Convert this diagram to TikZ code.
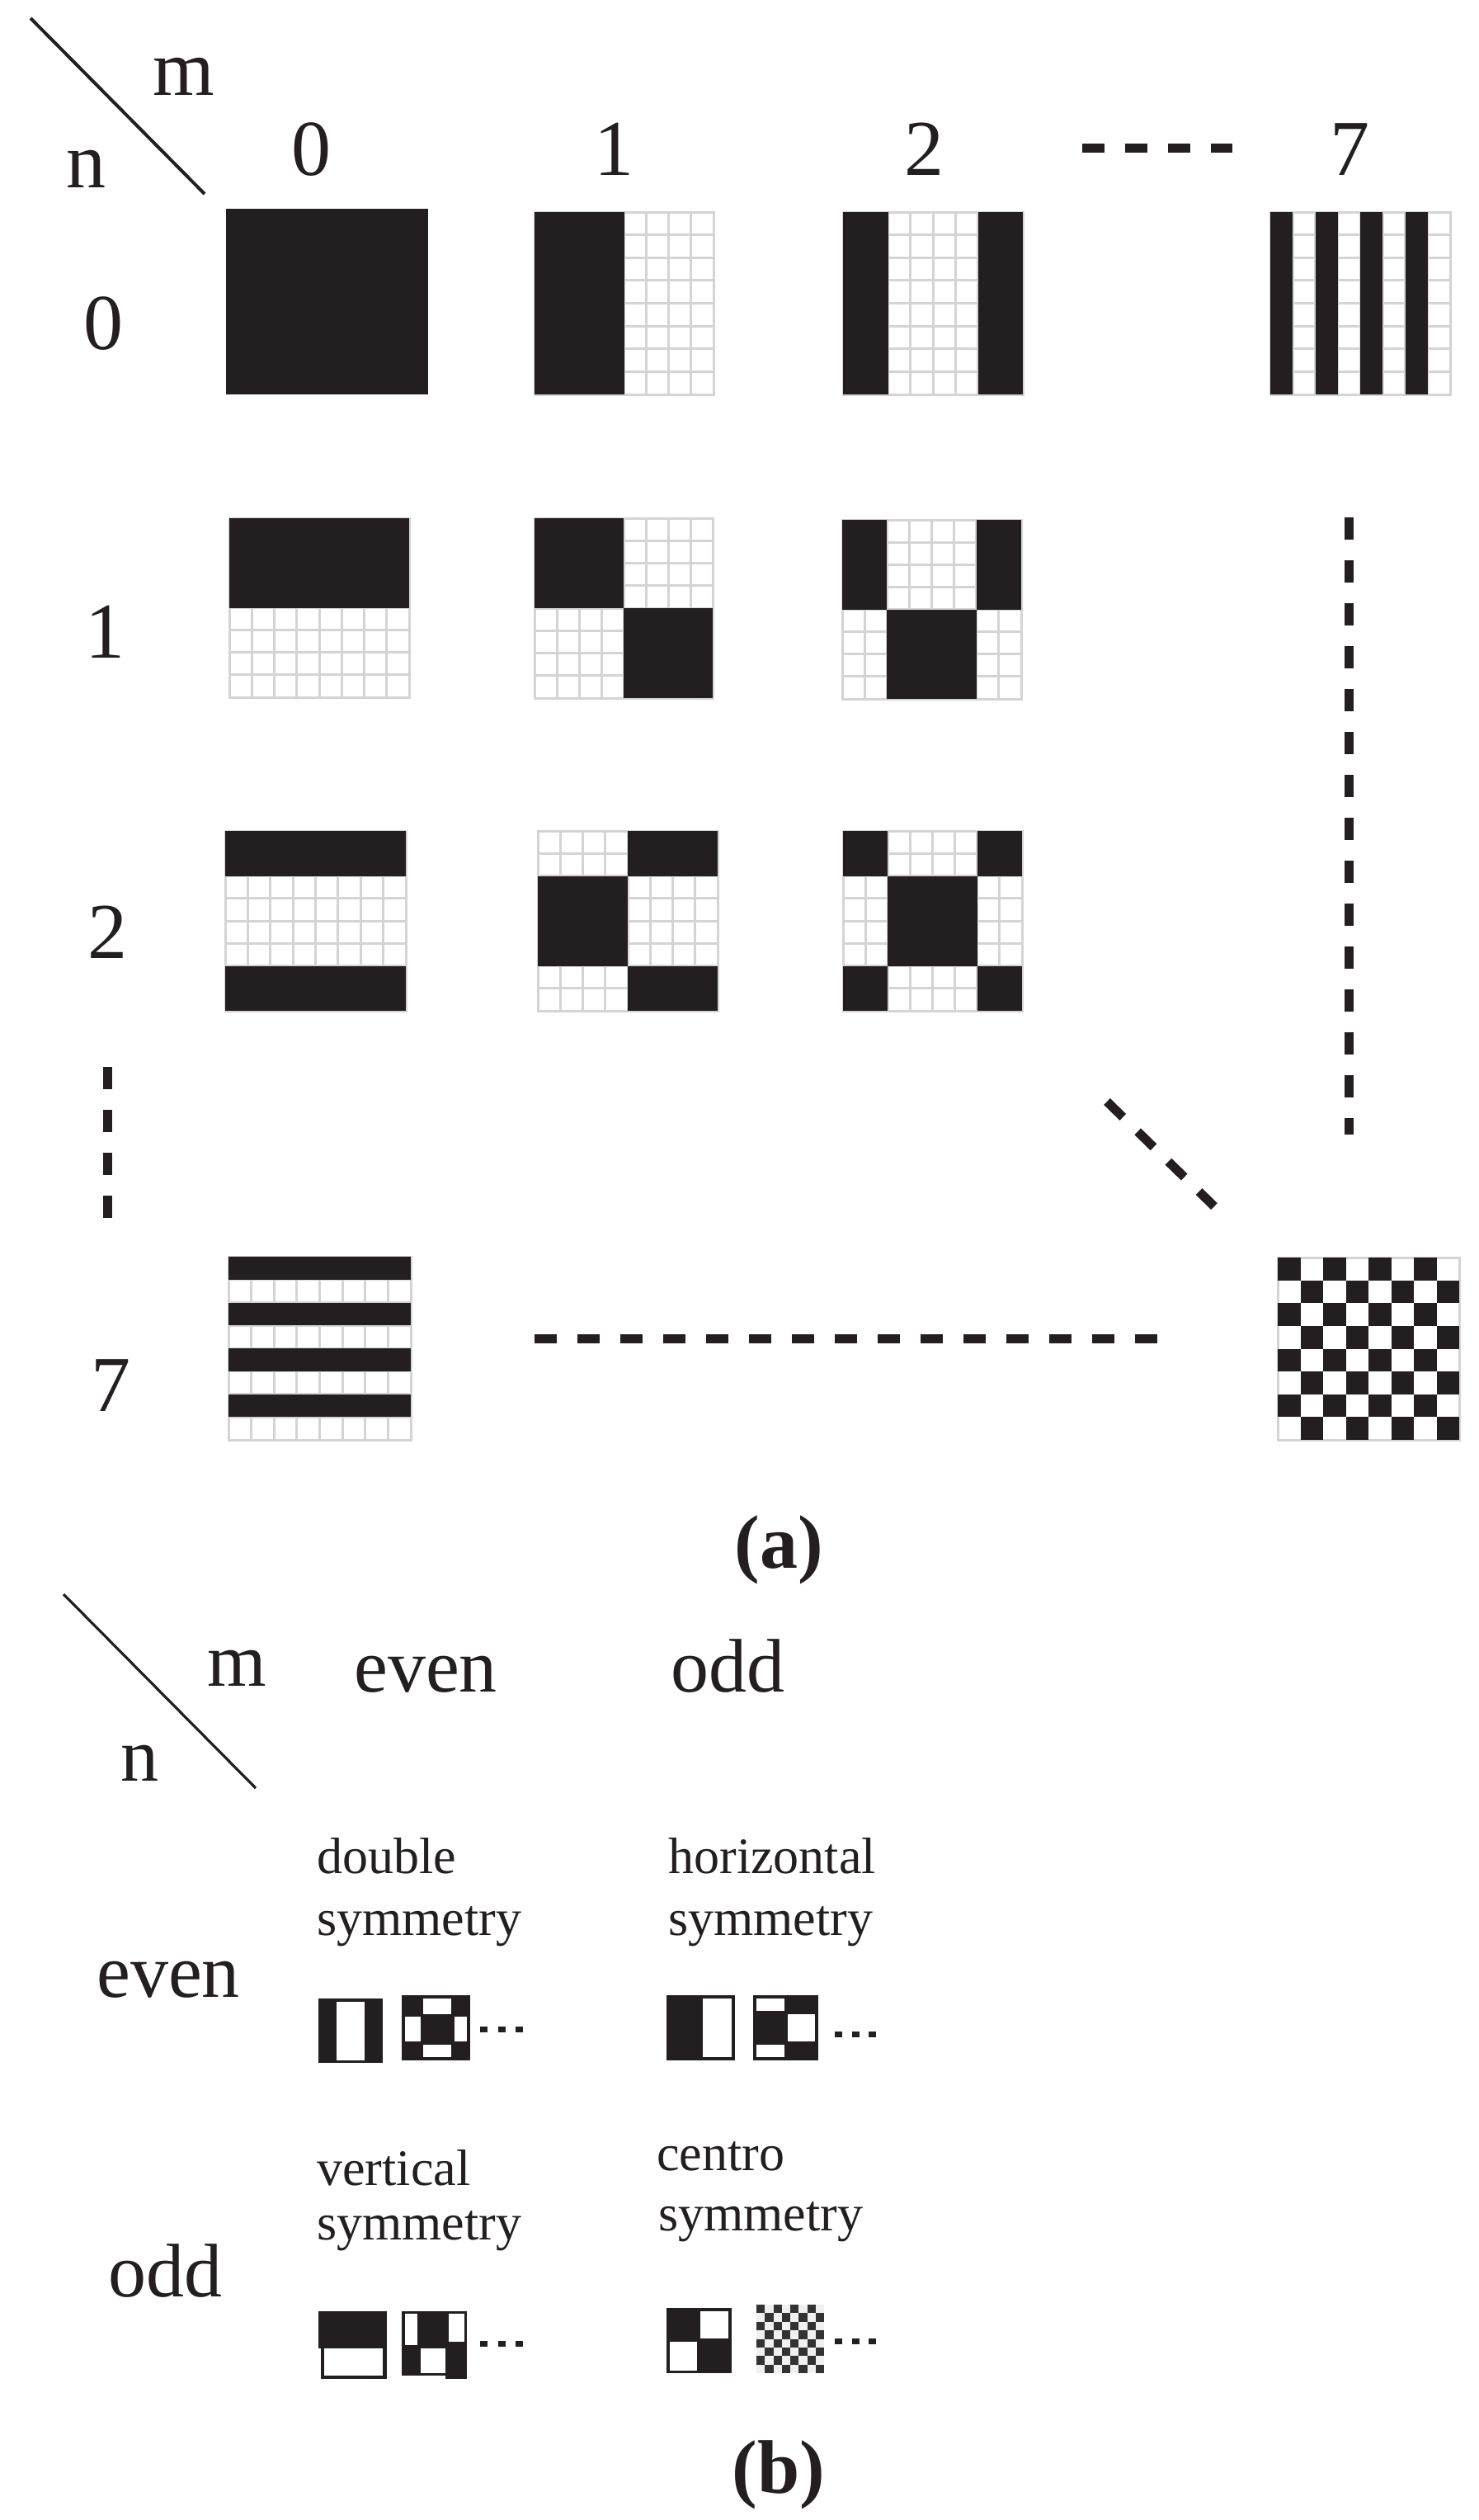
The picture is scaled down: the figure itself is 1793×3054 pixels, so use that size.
\documentclass[tikz,border=0pt]{standalone}
\usepackage{fontspec}
\setmainfont{Liberation Serif}
\definecolor{ink}{HTML}{231F20}
\definecolor{gridc}{HTML}{D4D4D4}
\newcommand\labf{\fontsize{48}{56}\selectfont}
\newcommand\hdrf{\fontsize{46}{54}\selectfont}
\newcommand\smallf{\fontsize{31}{36}\selectfont}
\newcommand\capf{\fontsize{46}{53}\selectfont\bfseries}
\newcommand\wpat[5]{%
 \begin{scope}[shift={(#1,#2)}, xscale=#3/8, yscale=#4/8]
   \foreach \k in {1,...,7} {
     \draw[gridln] (\k,0) -- (\k,8);
     \draw[gridln] (0,\k) -- (8,\k);
   }
   \draw[gridln] (0,0) rectangle (8,8);
   \foreach \a/\b/\c/\d in {#5} \fill[ink] (\a,\b) rectangle (\c,\d);
 \end{scope}}
\begin{document}
\begin{tikzpicture}[x=0.5pt,y=-0.5pt,
  gridln/.style={draw=gridc, line width=1.5pt},
  lab/.style={inner sep=0pt, anchor=base, font=\labf, text=ink},
  hdr/.style={inner sep=0pt, anchor=base, font=\hdrf, text=ink},
  small/.style={inner sep=0pt, anchor=base west, font=\smallf, text=ink},
  captxt/.style={inner sep=0pt, anchor=base, font=\capf, text=ink},
  dashln/.style={draw=ink, line width=5.5pt, dash pattern=on 13.5pt off 12.5pt},
  diag/.style={draw=ink, line width=2pt}]
\useasboundingbox (0,0) rectangle (1793,3054);
\fill[white] (0,0) rectangle (1793,3054);

% ---------------- part (a) ----------------
\coordinate (da1) at (37,22);
\coordinate (da2) at (248,235);
\draw[diag] (da1) -- (da2);
\node[lab] (am) at (223,115) {m};
\node[lab] (an) at (104,227) {n};
\node[lab] (c0) at (377,212) {0};
\node[lab] (c1) at (744,212) {1};
\node[lab] (c2) at (1120,212) {2};
\node[lab] (c7) at (1636,212) {7};
\node[lab] (r0) at (125,423) {0};
\node[lab] (r1) at (127,797) {1};
\node[lab] (r2) at (130,1161) {2};
\node[lab] (r7) at (134,1710) {7};

% patterns
\begin{scope}[shift={(274,253)}, xscale=245/8, yscale=225/8]
  \fill[ink] (0,0) rectangle (8,8);
\end{scope}
\wpat{648}{257}{217}{221}{0/0/4/8}
\wpat{1022}{257}{218}{221}{0/0/2/8,6/0/8/8}
\wpat{1540}{257}{218}{221}{0/0/1/8,2/0/3/8,4/0/5/8,6/0/7/8}
\wpat{278}{628}{218}{217}{0/0/8/4}
\wpat{648}{628}{216}{218}{0/0/4/4,4/4/8/8}
\wpat{1021}{630}{217}{217}{0/0/2/4,6/0/8/4,2/4/6/8}
\wpat{273}{1007}{219}{218}{0/0/8/2,0/6/8/8}
\wpat{652}{1007}{218}{218}{4/0/8/2,0/2/4/6,4/6/8/8}
\wpat{1022}{1007}{217}{218}{0/0/2/2,6/0/8/2,2/2/6/6,0/6/2/8,6/6/8/8}
\wpat{277}{1523}{221}{222}{0/0/8/1,0/2/8/3,0/4/8/5,0/6/8/7}
\begin{scope}[shift={(1549,1524)}, xscale=220/8, yscale=221/8]
  \draw[gridln] (0,0) rectangle (8,8);
  \foreach \r in {0,...,7}
    \foreach \c in {0,2,4,6} {
      \pgfmathtruncatemacro\cc{\c+mod(\r,2)}
      \fill[ink] (\cc,\r) rectangle ++(1,1);
    }
\end{scope}

% dashed connectors
\coordinate (hd1) at (1312,179);
\coordinate (hd2) at (1494,179);
\draw[dashln] (hd1) -- (hd2);
\coordinate (lv1) at (130,1293);
\coordinate (lv2) at (130,1476);
\draw[dashln] (lv1) -- (lv2);
\coordinate (rv1) at (1635,627);
\coordinate (rv2) at (1635,1375);
\draw[dashln] (rv1) -- (rv2);
\coordinate (hh1) at (648,1622);
\coordinate (hh2) at (1404,1622);
\draw[dashln] (hh1) -- (hh2);
\coordinate (dd1) at (1342,1335);
\coordinate (dd2) at (1472,1462);
\draw[dashln] (dd1) -- (dd2);

\node[captxt] (capa) at (944,1900) {(a)};

% ---------------- part (b) ----------------
\coordinate (db1) at (77,1932);
\coordinate (db2) at (310,2167);
\draw[diag, line width=1.6pt] (db1) -- (db2);
\node[hdr] (bm) at (287,2043) {m};
\node[hdr] (beven) at (516,2050) {even};
\node[hdr] (bodd) at (882,2050) {odd};
\node[hdr] (bn) at (169,2158) {n};
\node[hdr] (breven) at (204,2420) {even};
\node[hdr] (brodd) at (200,2783) {odd};

\node[small] (t1a) at (384,2270) {double};
\node[small] (t1b) at (384,2345) {symmetry};
\node[small] (t2a) at (810,2270) {horizontal};
\node[small] (t2b) at (810,2345) {symmetry};
\node[small] (t3a) at (384,2648) {vertical};
\node[small] (t3b) at (384,2714) {symmetry};
\node[small] (t4a) at (796,2630) {centro};
\node[small] (t4b) at (798,2703) {symmetry};

% icons, even row
\fill[ink] (386,2422) rectangle (464,2500);
\fill[white] (408,2426) rectangle (442,2497);
\fill[ink] (487,2418) rectangle (570,2497);
\fill[white] (513,2422) rectangle (547,2441);
\fill[white] (491,2444) rectangle (510,2474);
\fill[white] (551,2444) rectangle (566,2474);
\fill[white] (513,2478) rectangle (547,2493);
\fill[ink] (808,2418) rectangle (891,2497);
\fill[white] (852,2422) rectangle (887,2493);
\fill[ink] (913,2418) rectangle (992,2497);
\fill[white] (917,2422) rectangle (951,2437);
\fill[white] (955,2441) rectangle (988,2474);
\fill[white] (917,2478) rectangle (951,2493);
\foreach \x in {586,608,629} \fill[ink] (\x-4.5,2455.5) rectangle ++(9,7);
\foreach \x in {1016,1037,1057} \fill[ink] (\x-4.5,2461.5) rectangle ++(9,7);

% icons, odd row
\fill[ink] (386,2801) rectangle (469,2846);
\fill[ink] (389,2846) rectangle (469,2883);
\fill[white] (393,2846) rectangle (464,2879);
\fill[ink] (487,2801) rectangle (566,2879);
\fill[ink] (540,2838) rectangle (566,2883);
\fill[white] (491,2804) rectangle (506,2842);
\fill[white] (544,2804) rectangle (563,2838);
\fill[white] (510,2846) rectangle (540,2876);
\fill[ink] (808,2797) rectangle (887,2876);
\fill[white] (849,2801) rectangle (883,2834);
\fill[white] (812,2838) rectangle (845,2873);
\begin{scope}[shift={(917,2793)}, xscale=82/8, yscale=83/8]
  \fill[gray!12] (0,0) rectangle (8,8);
  \foreach \r in {0,...,7}
    \foreach \c in {0,2,4,6} {
      \pgfmathtruncatemacro\cc{\c+mod(\r,2)}
      \fill[black!80] (\cc,\r) rectangle ++(1,1);
    }
\end{scope}
\foreach \x in {586,608,629} \fill[ink] (\x-4.5,2836.5) rectangle ++(9,7);
\foreach \x in {1016,1037,1057} \fill[ink] (\x-4.5,2833.5) rectangle ++(9,7);

\node[captxt] (capb) at (944,3021) {(b)};
\end{tikzpicture}
\end{document}
